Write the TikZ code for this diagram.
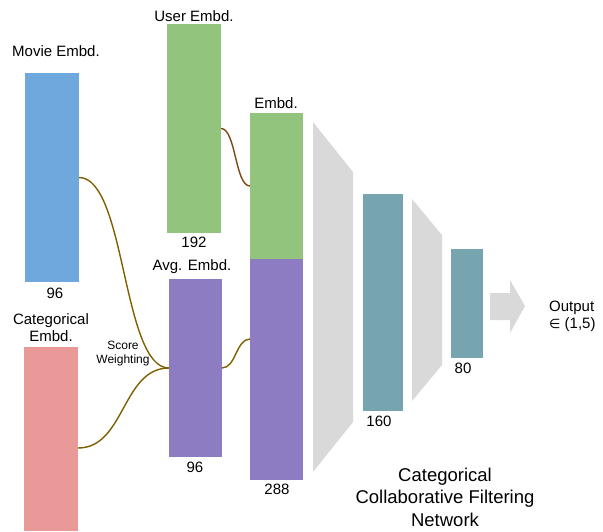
\documentclass[tikz,border=0pt]{standalone}
\usepackage{fontspec}
\setmainfont{Liberation Sans}
\usepackage{amssymb}
\definecolor{cblue}{HTML}{6FA8DC}
\definecolor{cpink}{HTML}{EA9999}
\definecolor{cgreen}{HTML}{93C47D}
\definecolor{cpurple}{HTML}{8E7CC3}
\definecolor{cteal}{HTML}{76A5AF}
\definecolor{cgray}{HTML}{D9D9D9}
\definecolor{colive}{HTML}{7F6000}
\definecolor{cbrown}{HTML}{7B4A12}
\tikzset{
  bar/.style={draw=none, inner sep=0pt, outer sep=0pt, anchor=north west},
  lbl/.style={font=\fontsize{15}{17}\selectfont, inner sep=0pt, align=center},
  small/.style={font=\fontsize{12}{14}\selectfont, inner sep=0pt, align=center},
  big/.style={font=\fontsize{18.5}{22.5}\selectfont, inner sep=0pt, align=center},
  link/.style={line width=1.4pt, colive},
}
\begin{document}
\begin{tikzpicture}[x=1pt,y=-1pt]
\useasboundingbox (0,0) rectangle (603,531);
% bars
\node[bar, fill=cblue, minimum width=54pt, minimum height=209pt] (movie) at (25,73) {};
\node[bar, fill=cpink, minimum width=54pt, minimum height=184pt] (cat) at (24,347) {};
\node[bar, fill=cgreen, minimum width=54pt, minimum height=209pt] (user) at (167,24) {};
\node[bar, fill=cpurple, minimum width=53pt, minimum height=178pt] (avg) at (169,279) {};
\node[bar, fill=cgreen, minimum width=53pt, minimum height=146pt] (embg) at (250,113) {};
\node[bar, fill=cpurple, minimum width=53pt, minimum height=221pt] (embp) at (250,259) {};
\node[bar, fill=cteal, minimum width=40pt, minimum height=217pt] (d1) at (363,194) {};
\node[bar, fill=cteal, minimum width=32pt, minimum height=109pt] (d2) at (451,249) {};
% trapezoids and arrow
\fill[cgray] (313,122) -- (353,172) -- (353,422) -- (313,472) -- cycle;
\fill[cgray] (412,199) -- (442,235) -- (442,365) -- (412,401) -- cycle;
\fill[cgray] (490,293) -- (510,293) -- (510,280) -- (525,306) -- (510,333) -- (510,320) -- (490,320) -- cycle;
% labels
\node[lbl] (lmovie) at (56,51) {Movie Embd.};
\node[lbl] (luser) at (194,16) {User Embd.};
\node[lbl] (lemb) at (276,103) {Embd.};
\node[lbl] (l192) at (194,242) {192};
\node[lbl] (lavg) at (192,267) {Avg. Embd.};
\node[lbl] (l96a) at (55,293) {96};
\node[lbl] (lcat) at (51,328) {Categorical\\Embd.};
\node[small] (lscore) at (123,354) {Score\\Weighting};
\node[lbl] (l96b) at (195,467) {96};
\node[lbl] (l288) at (277,489) {288};
\node[lbl] (l160) at (379,421) {160};
\node[lbl] (l80) at (463,368) {80};
\node[lbl, anchor=west, align=left] (lout) at (549,316) {Output\\{\fontspec{DejaVu Sans}\fontsize{13}{15}\selectfont ∈} (1,5)};
\node[big] (lnet) at (445,497) {Categorical\\Collaborative Filtering\\Network};
% connectors
\coordinate (catout) at ([yshift=-9pt]cat.east);
\coordinate (embin) at (embp.west |- 0,339);
\draw[link] (movie.east) .. controls +(47,0) and +(-47,0) .. (avg.west);
\draw[link] (catout) .. controls +(47,0) and +(-47,0) .. (avg.west);
\draw[link, cbrown] (user.east) .. controls +(15,0) and +(-15,0) .. (embg.west);
\draw[link] (avg.east) .. controls +(14,0) and +(-14,0) .. (embin);
\end{tikzpicture}
\end{document}
